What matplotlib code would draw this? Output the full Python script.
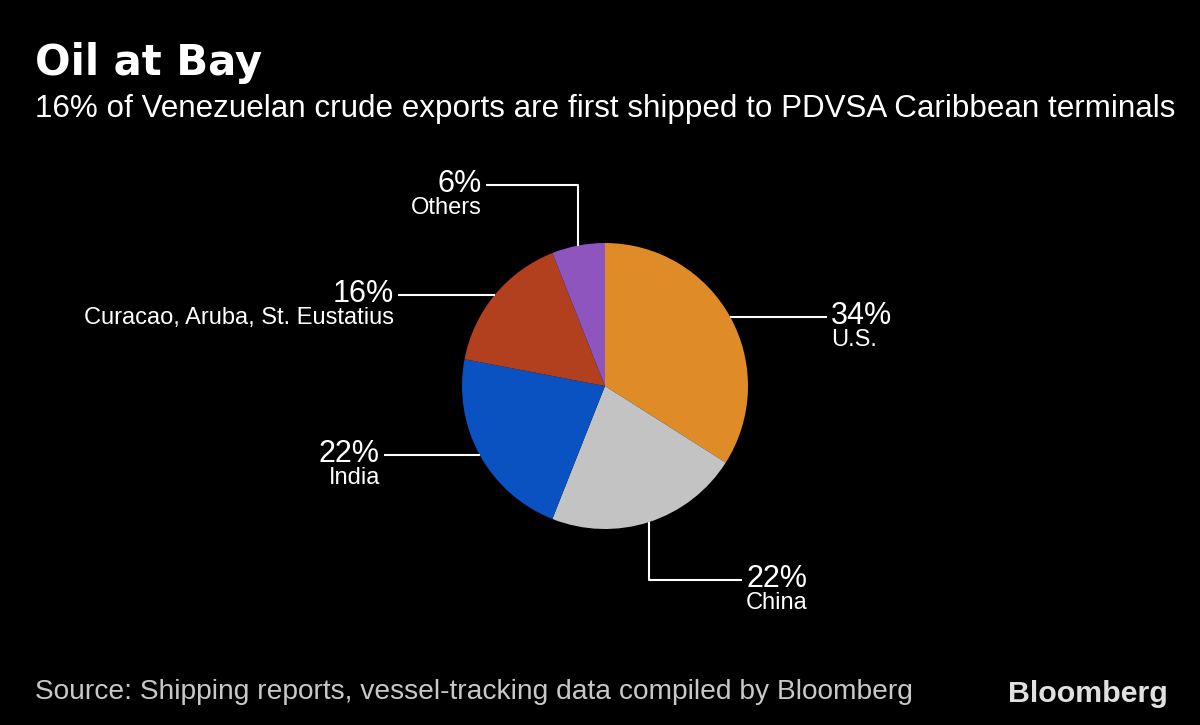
import matplotlib
matplotlib.use('Agg')
import matplotlib.pyplot as plt
import numpy as np
from matplotlib import font_manager

# data
labels = ['U.S.', 'China', 'India', 'Curacao, Aruba, St. Eustatius', 'Others']
shares = [34, 22, 22, 16, 6]
colors = ['#DF8C28', '#C3C3C3', '#0A52C2', '#B2401F', '#8F55BF']

title = 'Oil at Bay'
subtitle = '16% of Venezuelan crude exports are first shipped to PDVSA Caribbean terminals'
source = 'Source: Shipping reports, vessel-tracking data compiled by Bloomberg'

# leader line end points (pixels from top-left) and whether the line goes vertical first
leader_end = [(827, None), (742, 580), (384, None), (398, None), (486, 185)]
vertical_first = [False, True, False, False, True]
label_side = ['left', 'left', 'right', 'right', 'right']

names = {f.name for f in font_manager.fontManager.ttflist}
narrow = 'Liberation Sans Narrow' if 'Liberation Sans Narrow' in names else 'Liberation Sans'

H = 725
fig = plt.figure(figsize=(12, 7.25), dpi=100, facecolor='black')
ax = fig.add_axes([0, 0, 1, 1])
ax.set_facecolor('black')

cx, cy, r = 605, H - 386, 143
wedges, _ = ax.pie(shares, colors=colors, startangle=90, counterclock=False,
                   center=(cx, cy), radius=r,
                   wedgeprops=dict(linewidth=0))
ax.set_xlim(0, 1200)
ax.set_ylim(0, H)
ax.set_aspect('equal')
ax.axis('off')

for w, lab, val, end, vf, side in zip(wedges, labels, shares, leader_end,
                                      vertical_first, label_side):
    ang = np.deg2rad((w.theta1 + w.theta2) / 2)
    x0 = cx + r * np.cos(ang)
    y0 = cy + r * np.sin(ang)
    ex = end[0]
    if vf:
        ey = H - end[1]
        xs, ys = [x0, x0, ex], [y0, ey, ey]
    else:
        ey = y0
        xs, ys = [x0, ex], [y0, y0]
    ax.plot(xs, ys, color='white', lw=1.5, solid_capstyle='butt')
    if side == 'left':
        tx, ha = ex + 4, 'left'
    else:
        tx, ha = ex - 4, 'right'
    ax.text(tx, ey - 7, f'{val}%', color='white', fontsize=22, family=narrow,
            ha=ha, va='baseline')
    ax.text(tx, ey - 29, lab, color='white',
            fontsize=17, family='Liberation Sans', ha=ha, va='baseline')

renderer = fig.canvas.get_renderer()


def fit(t, width):
    w = t.get_window_extent(renderer).width
    t.set_fontsize(t.get_fontsize() * width / w)


t1 = ax.text(35, H - 75, title, color='white', fontsize=30, fontweight='bold',
             family='DejaVu Sans', va='baseline')
fit(t1, 227)
t2 = ax.text(35, H - 117, subtitle, color='white', fontsize=19,
             family='Liberation Sans', va='baseline')
fit(t2, 1142)
t3 = ax.text(35, H - 699, source, color='#C8C8C8', fontsize=17,
             family='Liberation Sans', va='baseline')
fit(t3, 878)
t4 = ax.text(1008, H - 702, 'Bloomberg', color='#E0E0E0', fontsize=20,
             fontweight='bold', family=narrow, va='baseline')
fit(t4, 160)

fig.savefig('out.png', dpi=100, facecolor='black')
